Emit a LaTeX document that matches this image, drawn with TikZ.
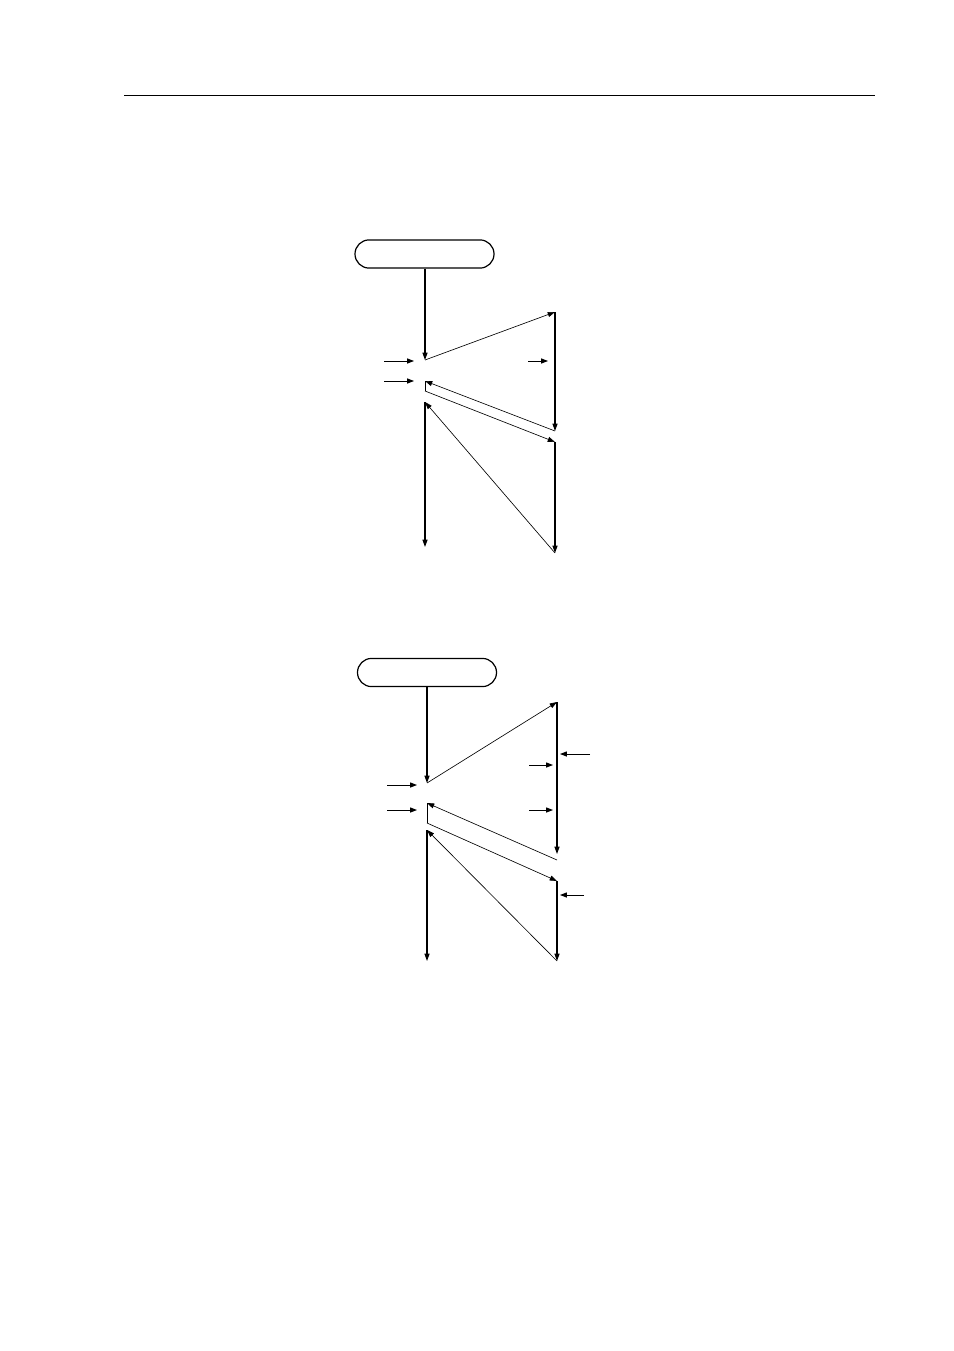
\documentclass[tikz,border=0pt]{standalone}
\usepackage{tikz}
\usetikzlibrary{calc, positioning, arrows.meta}

\begin{document}
\begin{tikzpicture}[x=0.2201mm, y=-0.2201mm,
    mainline/.style={line width=0.65pt, -{Triangle[length=1.6mm, width=1.1mm]}},
    sideline/.style={line width=0.4pt, -{Triangle[length=1.6mm, width=1.1mm]}},
    plainline/.style={line width=0.4pt},
    feedline/.style={line width=0.55pt, -{Triangle[length=1.5mm, width=1.1mm]}},
    startbox/.style={draw, line width=0.75pt, rounded corners=3.1mm, minimum width=30.6mm, minimum height=6.2mm, inner sep=0pt}]
    % Page - A4 size in pixels of the reference
    \useasboundingbox (0,0) rectangle (954,1351);

    % Header rule
    \coordinate (ruleL) at (124,95);
    \coordinate (ruleR) at (875,95);
    \draw[line width=0.6pt] (ruleL) -- (ruleR);

    % ---------------- Upper chart ----------------
    \node[startbox] (topbox) at (424.5,254) {};

    % Points on the left column
    \coordinate (tA) at (425,360);
    \coordinate (tB) at (425,381);
    \coordinate (tC) at (425,391);
    \coordinate (tD) at (425,402);
    \coordinate (tE) at (425,547);
    % Points on the right column
    \coordinate (tR1) at (555,312);
    \coordinate (tR2) at (555,431);
    \coordinate (tR3) at (555,442);
    \coordinate (tR4) at (555,553);

    \draw[mainline] (topbox.south -| tA) -- (tA);
    \draw[sideline] (tA) -- (tR1);
    \draw[mainline] (tR1) -- (tR2);
    \draw[sideline] (tR2) -- (tB);
    \draw[plainline] (tB) -- (tC);
    \draw[sideline] (tC) -- (tR3);
    \draw[mainline] (tR3) -- (tR4);
    \draw[sideline] (tR4) -- (tD);
    \draw[mainline] (tD) -- (tE);

    % Incoming arrows
    \coordinate (tIn1) at (384,361);
    \coordinate (tIn1e) at (414,361);
    \coordinate (tIn2) at (384,381);
    \coordinate (tIn2e) at (414,381);
    \coordinate (tMid) at (528,361);
    \coordinate (tMide) at (548,361);
    \draw[feedline] (tIn1) -- (tIn1e);
    \draw[feedline] (tIn2) -- (tIn2e);
    \draw[feedline] (tMid) -- (tMide);

    % ---------------- Lower chart ----------------
    \node[startbox] (botbox) at (427,672.5) {};

    % Points on the left column
    \coordinate (bA) at (427,783);
    \coordinate (bB) at (427,803);
    \coordinate (bC) at (427,823);
    \coordinate (bD) at (427,830);
    \coordinate (bE) at (427,961);
    % Points on the right column
    \coordinate (bR1) at (557,702);
    \coordinate (bR2) at (557,854);
    \coordinate (bR2b) at (557,860);
    \coordinate (bR3) at (557,881);
    \coordinate (bR4) at (557,961);

    \draw[mainline] (botbox.south -| bA) -- (bA);
    \draw[sideline] (bA) -- (bR1);
    \draw[mainline] (bR1) -- (bR2);
    \draw[sideline] (bR2b) -- (bB);
    \draw[plainline] (bB) -- (bC);
    \draw[sideline] (bC) -- (bR3);
    \draw[mainline] (bR3) -- (bR4);
    \draw[sideline] (bR4) -- (bD);
    \draw[mainline] (bD) -- (bE);

    % Incoming arrows
    \coordinate (bIn1) at (387,785);
    \coordinate (bIn1e) at (417,785);
    \coordinate (bIn2) at (387,810);
    \coordinate (bIn2e) at (417,810);
    \coordinate (bMid1) at (529,765);
    \coordinate (bMid1e) at (553,765);
    \coordinate (bMid2) at (529,810);
    \coordinate (bMid2e) at (553,810);
    \draw[feedline] (bIn1) -- (bIn1e);
    \draw[feedline] (bIn2) -- (bIn2e);
    \draw[feedline] (bMid1) -- (bMid1e);
    \draw[feedline] (bMid2) -- (bMid2e);

    % Arrows from the right
    \coordinate (bOut1) at (590,754);
    \coordinate (bOut1e) at (560,754);
    \coordinate (bOut2) at (584,895);
    \coordinate (bOut2e) at (560,895);
    \draw[feedline] (bOut1) -- (bOut1e);
    \draw[feedline] (bOut2) -- (bOut2e);

\end{tikzpicture}
\end{document}
